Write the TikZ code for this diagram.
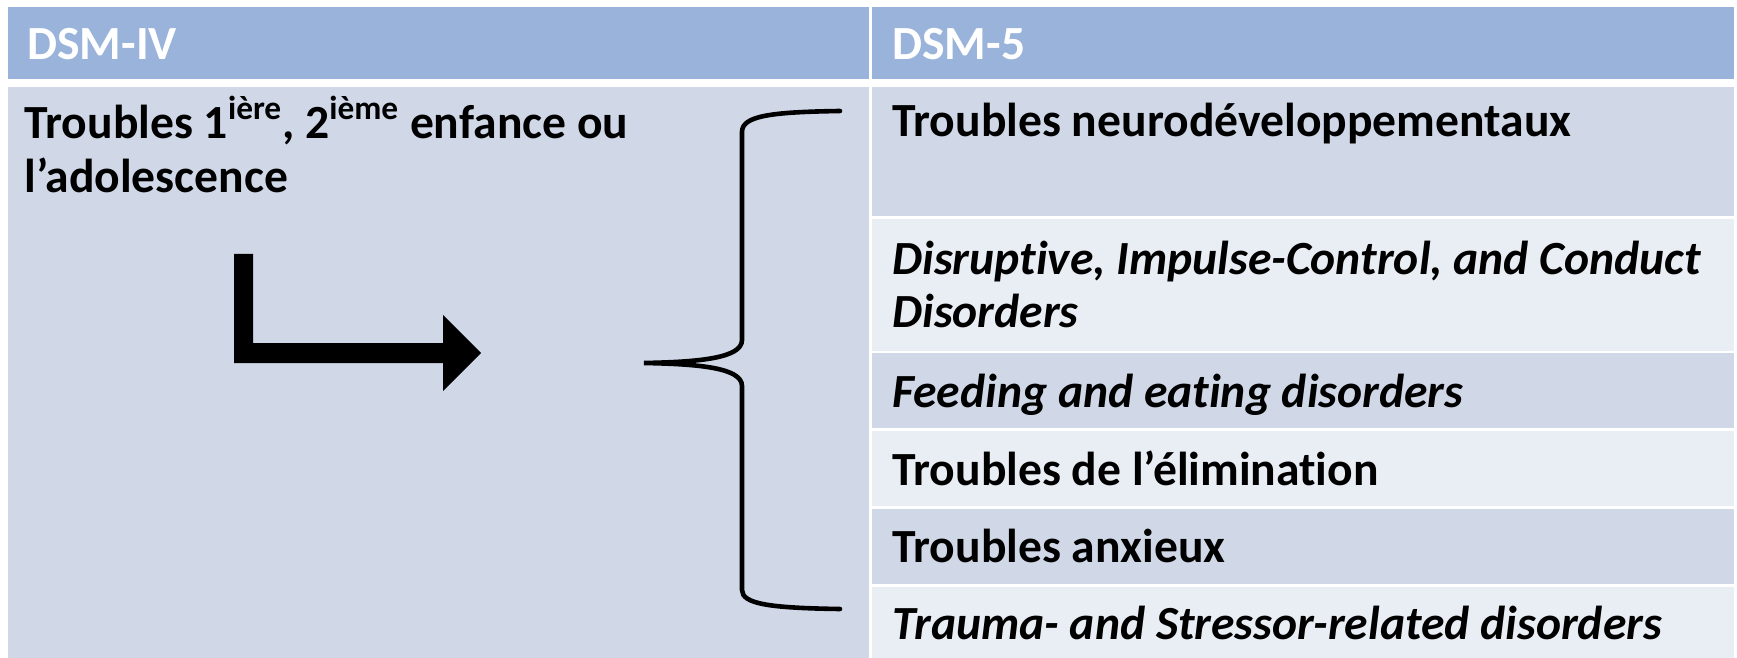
\documentclass[tikz,border=0pt]{standalone}
\usepackage{fontspec}
\setmainfont{Carlito}[Ligatures={NoCommon}]
\definecolor{hdrblue}{HTML}{99B3DB}
\definecolor{banddark}{HTML}{D0D8E8}
\definecolor{bandlight}{HTML}{E9EDF4}
\begin{document}
\begin{tikzpicture}[x=0.5pt,y=-0.5pt,
    hdr/.style={anchor=base west,inner sep=0pt,text=white,font=\bfseries\fontsize{23.8}{27}\selectfont},
    entry/.style={anchor=base west,inner sep=0pt,align=left,font=\bfseries\fontsize{23.8}{27}\selectfont},
    slanted/.style={entry,font=\bfseries\itshape\fontsize{23.8}{27}\selectfont},
    brace/.style={line width=2.3pt,line cap=round}]
        \useasboundingbox[fill=white] (0,0) rectangle (1737,658);
        \fill[hdrblue] (8,7) rectangle (869,79);
        \fill[hdrblue] (872,7) rectangle (1734,79);
        \fill[banddark] (8,87) rectangle (869,658);
        \fill[banddark] (872,87) rectangle (1734,216);
        \fill[bandlight] (872,219) rectangle (1734,351);
        \fill[banddark] (872,353) rectangle (1734,428);
        \fill[bandlight] (872,431) rectangle (1734,506);
        \fill[banddark] (872,509) rectangle (1734,584);
        \fill[bandlight] (872,587) rectangle (1734,658);
        \node[hdr] (dsmiv) at (27,60) {DSM-IV};
        \node[hdr] (dsmv) at (892,60) {DSM-5};
        \node[entry] (enfance) at (24,192) {Troubles 1\textsuperscript{ière}, 2\textsuperscript{ième} enfance ou\\l’adolescence};
        \node[entry] (neuro) at (892,137) {Troubles neurodéveloppementaux};
        \node[slanted] (disrupt) at (892,328) {Disruptive, Impulse-Control, and Conduct\\Disorders};
        \node[slanted] (feeding) at (892,407) {Feeding and eating disorders};
        \node[entry] (elim) at (892,485) {Troubles de l’élimination};
        \node[entry] (anx) at (892,562) {Troubles anxieux};
        \node[slanted] (trauma) at (892,639) {Trauma- and Stressor-related disorders};
        \fill (234,254) -- (253,254) -- (253,343) -- (443,343) -- (443,315) -- (481,353)
            -- (443,391) -- (443,363) -- (234,363) -- cycle;
        \draw[brace] (840,111) .. controls (770,112) and (742,116) .. (742,132) -- (742,340)
            .. controls (742,358) and (700,362) .. (644,363)
            .. controls (700,364) and (742,368) .. (742,386) -- (742,590)
            .. controls (742,604) and (770,608) .. (840,609);
      \end{tikzpicture}
\end{document}
